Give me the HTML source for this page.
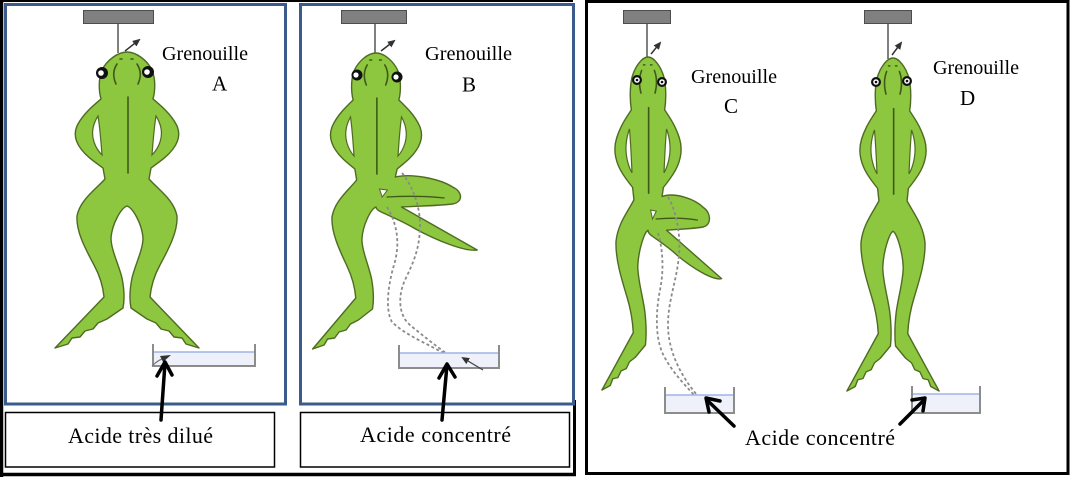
<!DOCTYPE html>
<html>
<head>
<meta charset="utf-8">
<style>
  html,body{margin:0;padding:0;background:#fff;}
  svg{display:block;}
  text{font-family:"Liberation Serif","DejaVu Serif",serif;fill:#000;}
</style>
</head>
<body>
<svg width="1071" height="479" viewBox="0 0 1071 479" xmlns="http://www.w3.org/2000/svg">
<defs>
  <path id="fs" vector-effect="non-scaling-stroke" fill="#8dc63f" stroke="#4f6b22" stroke-width="1.4" stroke-linejoin="round"
    d="M127,52 C136,52 147,60 152,70 C156,80 155,92 153,99 C160,105 170,113 176,124 C181,133 179,141 173,149 C167,157 159,162 151,168 L149,179 C159,190 174,200 177,216 C178,232 168,250 160,265 C154,276 151,286 150,297 L199,348 L186,344 L182,338 L174,337 L169,331 L161,329 L156,323 L147,319 L131,308 C129,298 130,288 132,278 C135,265 143,250 143,238 C142,224 133,208 127,206 C121,208 112,224 111,238 C111,250 119,265 122,278 C124,288 125,298 123,308 L107,319 L98,323 L93,329 L85,331 L80,337 L72,338 L68,344 L55,348 L104,297 C103,286 100,276 94,265 C86,250 76,232 77,216 C80,200 95,190 105,179 L103,168 C95,162 87,157 81,149 C75,141 73,133 78,124 C84,113 94,105 101,99 C99,92 98,80 102,70 C107,60 118,52 127,52 Z"/>
  <path id="fb" vector-effect="non-scaling-stroke" fill="#8dc63f" stroke="#4f6b22" stroke-width="1.4" stroke-linejoin="round"
    d="M127,52 C136,52 147,60 152,70 C156,80 155,92 153,99 C160,105 170,113 176,124 C181,133 179,141 173,149 C167,157 159,162 151,168 L149,176 C168,172 200,178 214,186 C225,190 227,201 214,203 C195,205 172,205 156,206 L242,249 C228,251 195,239 172,228 C157,220 140,214 133,211 C128,209 127,207 127,206 C121,208 112,224 111,238 C111,250 119,265 122,278 C124,288 125,298 123,308 L107,319 L98,323 L93,329 L85,331 L80,337 L72,338 L68,344 L55,348 L104,297 C103,286 100,276 94,265 C86,250 76,232 77,216 C80,200 95,190 105,179 L103,168 C95,162 87,157 81,149 C75,141 73,133 78,124 C84,113 94,105 101,99 C99,92 98,80 102,70 C107,60 118,52 127,52 Z"/>
  <g id="holes">
    <path vector-effect="non-scaling-stroke" fill="#fff" stroke="#4f6b22" stroke-width="1.2" d="M156,116 C161,124 163,133 160,142 C158,148 155,152 152,155 C153,142 154,128 156,116 Z"/>
    <path vector-effect="non-scaling-stroke" fill="#fff" stroke="#4f6b22" stroke-width="1.2" d="M98,116 C93,124 91,133 94,142 C96,148 99,152 102,155 C101,142 100,128 98,116 Z"/>
  </g>
  <g id="det" fill="none" stroke="#3f5a18" stroke-width="1.6" stroke-linecap="round">
    <path vector-effect="non-scaling-stroke" d="M128,97 L128,173"/>
    <path vector-effect="non-scaling-stroke" d="M117,64 Q111,73 116,84"/>
    <path vector-effect="non-scaling-stroke" d="M137,64 Q143,73 138,84"/>
    <path vector-effect="non-scaling-stroke" d="M120,59 L122,59"/>
    <path vector-effect="non-scaling-stroke" d="M131,59 L133,59"/>
  </g>
  <g id="bentdet">
    <path vector-effect="non-scaling-stroke" fill="none" stroke="#3f5a18" stroke-width="1.3" d="M139,196 C160,195 185,195 205,197"/>
    <path vector-effect="non-scaling-stroke" fill="#fff" stroke="#4f6b22" stroke-width="1" d="M131,188 L140,189 L134,196 Z"/>
  </g>
  <marker id="sa" markerWidth="8" markerHeight="8" refX="6" refY="4" orient="auto" markerUnits="userSpaceOnUse">
    <path d="M0,0.5 L8,4 L0,7.5 Z" fill="#333"/>
  </marker>
</defs>

<!-- left group black frame -->
<line x1="0" y1="1" x2="573" y2="1" stroke="#000" stroke-width="2"/>
<line x1="1.5" y1="0" x2="1.5" y2="477" stroke="#000" stroke-width="3.5"/>
<line x1="0" y1="474.5" x2="576" y2="474.5" stroke="#000" stroke-width="3.5"/>
<line x1="574.5" y1="400" x2="574.5" y2="476" stroke="#000" stroke-width="3"/>

<!-- blue panels -->
<rect x="5.5" y="4.5" width="280" height="399.5" fill="#fff" stroke="#3b5b8c" stroke-width="3"/>
<rect x="300.5" y="4.5" width="273" height="399.5" fill="#fff" stroke="#3b5b8c" stroke-width="3"/>

<!-- label boxes -->
<rect x="5.5" y="412.5" width="269" height="54.5" fill="#fff" stroke="#000" stroke-width="1.5"/>
<rect x="300.5" y="412.5" width="269" height="54.5" fill="#fff" stroke="#000" stroke-width="1.5"/>

<!-- right panel -->
<rect x="586.5" y="1.5" width="481.5" height="472" fill="#fff" stroke="#000" stroke-width="3"/>

<!-- hanger bars & strings -->
<g fill="#808080" stroke="#4d4d4d" stroke-width="1">
  <rect x="83.5" y="10.5" width="70" height="13"/>
  <rect x="341.5" y="10.5" width="65" height="13"/>
  <rect x="623.5" y="10.5" width="47" height="13"/>
  <rect x="864.5" y="10.5" width="47" height="13"/>
</g>
<g stroke="#555" stroke-width="1.5">
  <line x1="118" y1="24" x2="118" y2="53"/>
  <line x1="375" y1="24" x2="375" y2="54"/>
  <line x1="647" y1="24" x2="647" y2="58"/>
  <line x1="888" y1="24" x2="888" y2="59"/>
</g>

<!-- frogs -->
<g>
  <use href="#fs"/>
  <use href="#holes"/>
  <use href="#det"/>
</g>
<g transform="translate(376,53) scale(0.88,1) translate(-127,-52)">
  <use href="#fb"/>
  <use href="#holes"/>
  <use href="#det"/>
  <use href="#bentdet"/>
</g>
<g transform="translate(648,57) scale(0.64,1.125) translate(-127,-52)">
  <use href="#fb"/>
  <use href="#holes"/>
  <use href="#det"/>
  <use href="#bentdet"/>
</g>
<g transform="translate(893,58) scale(0.64,1.125) translate(-127,-52)">
  <use href="#fs"/>
  <use href="#holes"/>
  <use href="#det"/>
</g>

<!-- eyes -->
<g>
  <circle cx="102" cy="73" r="6" fill="#111"/><circle cx="101" cy="73" r="2.8" fill="#fff"/>
  <circle cx="148" cy="72" r="6" fill="#111"/><circle cx="147" cy="72" r="2.8" fill="#fff"/>
  <circle cx="357" cy="75" r="5.5" fill="#111"/><circle cx="356" cy="75" r="2.6" fill="#fff"/>
  <circle cx="397" cy="77" r="5.5" fill="#111"/><circle cx="396" cy="77" r="2.6" fill="#fff"/>
  <circle cx="637" cy="80" r="5" fill="#111"/><circle cx="637" cy="80" r="2.8" fill="#fff"/><circle cx="637" cy="80" r="1.3" fill="#111"/>
  <circle cx="662" cy="82" r="5" fill="#111"/><circle cx="662" cy="82" r="2.8" fill="#fff"/><circle cx="662" cy="82" r="1.3" fill="#111"/>
  <circle cx="876" cy="82" r="5" fill="#111"/><circle cx="876" cy="82" r="2.8" fill="#fff"/><circle cx="876" cy="82" r="1.3" fill="#111"/>
  <circle cx="907" cy="81" r="5" fill="#111"/><circle cx="907" cy="81" r="2.8" fill="#fff"/><circle cx="907" cy="81" r="1.3" fill="#111"/>
</g>

<!-- small head arrows -->
<g stroke="#333" stroke-width="1.5" marker-end="url(#sa)">
  <line x1="125" y1="51" x2="139" y2="40"/>
  <line x1="381" y1="51" x2="394" y2="41"/>
  <line x1="651" y1="54" x2="660" y2="43"/>
  <line x1="892" y1="55" x2="901" y2="43"/>
</g>

<!-- dashed ghost legs -->
<g fill="none" stroke="#8a8a8a" stroke-width="1.8" stroke-dasharray="3,2.5">
  <path d="M387,207 C398,225 400,245 394,265 C388,285 385,310 392,322 C405,335 430,345 445,354"/>
  <path d="M402,173 C412,185 420,205 420,225 C420,250 412,265 405,280 C398,295 398,315 410,325 C422,335 435,345 447,354"/>
  <path d="M658,233 C663,250 664,270 660,290 C656,310 655,335 662,352 C670,370 685,385 694,395"/>
  <path d="M668,197 C676,210 681,235 679,255 C677,280 668,300 668,325 C668,350 680,375 697,395"/>
</g>

<!-- basins -->
<g>
  <rect x="153" y="352" width="102" height="14" fill="#eef1fa"/>
  <line x1="153" y1="352" x2="255" y2="352" stroke="#9db3e6" stroke-width="1.5"/>
  <path d="M153,344 V366 H255 V344" fill="none" stroke="#8c8c8c" stroke-width="2"/>

  <rect x="399" y="353" width="100" height="15" fill="#eef1fa"/>
  <line x1="399" y1="353" x2="499" y2="353" stroke="#9db3e6" stroke-width="1.5"/>
  <path d="M399,345 V368 H499 V345" fill="none" stroke="#8c8c8c" stroke-width="2"/>

  <rect x="665" y="395" width="69" height="18" fill="#eef1fa"/>
  <line x1="665" y1="395" x2="734" y2="395" stroke="#9db3e6" stroke-width="1.5"/>
  <path d="M665,387 V413 H734 V387" fill="none" stroke="#8c8c8c" stroke-width="2"/>

  <rect x="912" y="394" width="68" height="19" fill="#eef1fa"/>
  <line x1="912" y1="394" x2="980" y2="394" stroke="#9db3e6" stroke-width="1.5"/>
  <path d="M912,386 V413 H980 V386" fill="none" stroke="#8c8c8c" stroke-width="2"/>
</g>

<!-- small arrows inside basins -->
<path d="M152,366 C156,362 160,359 165,358" fill="none" stroke="#777" stroke-width="1.2"/>
<path d="M160,356 L171,355 L163,362 Z" fill="#333"/>
<line x1="483" y1="370" x2="463" y2="358" stroke="#444" stroke-width="1.3" marker-end="url(#sa)"/>

<!-- big black arrows -->
<g fill="none" stroke="#000" stroke-width="3.5" stroke-linecap="round" stroke-linejoin="round">
  <line x1="161" y1="420" x2="165" y2="363"/>
  <polyline points="157,376 165,362 172,375"/>
  <line x1="442" y1="420" x2="447" y2="365"/>
  <polyline points="439,378 447,364 455,377"/>
  <line x1="734" y1="426" x2="707" y2="400"/>
  <polyline points="720,401 706,398 709,412"/>
  <line x1="900" y1="424" x2="924" y2="400"/>
  <polyline points="912,400 925,398 923,411"/>
</g>

<!-- labels -->
<text x="162" y="60" font-size="20" textLength="86" lengthAdjust="spacingAndGlyphs">Grenouille</text>
<text x="212" y="90.5" font-size="21">A</text>
<text x="425" y="60" font-size="20" textLength="87" lengthAdjust="spacingAndGlyphs">Grenouille</text>
<text x="462" y="91.5" font-size="21">B</text>
<text x="691" y="83" font-size="20" textLength="86" lengthAdjust="spacingAndGlyphs">Grenouille</text>
<text x="724" y="113" font-size="21">C</text>
<text x="933" y="74" font-size="20" textLength="86" lengthAdjust="spacingAndGlyphs">Grenouille</text>
<text x="960" y="105" font-size="21">D</text>

<text x="68" y="443" font-size="22" textLength="145" lengthAdjust="spacing">Acide très dilué</text>
<text x="360" y="442" font-size="22" textLength="151" lengthAdjust="spacing">Acide concentré</text>
<text x="745" y="445" font-size="22" textLength="150" lengthAdjust="spacing">Acide concentré</text>
</svg>
</body>
</html>
